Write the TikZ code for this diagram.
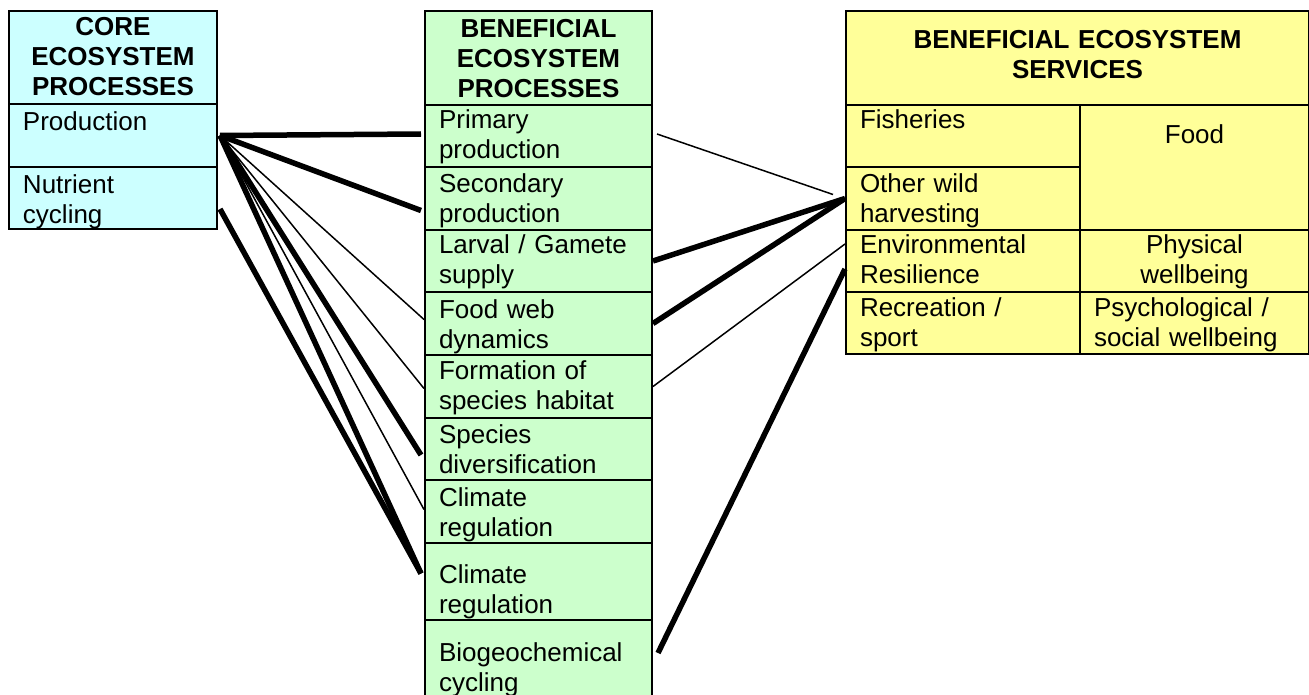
\documentclass[tikz,border=0pt]{standalone}
\usepackage{fontspec}
\setmainfont{Liberation Sans}
\usetikzlibrary{positioning}
\definecolor{colcore}{HTML}{CCFFFF}
\definecolor{colben}{HTML}{CCFFCC}
\definecolor{colserv}{HTML}{FFFF99}
\tikzset{
  cell/.style={draw=black, line width=2pt, anchor=north west, inner xsep=14pt, inner ysep=0pt,
    align=left, font=\fontsize{26}{30}\selectfont},
  head/.style={cell, align=center, font=\fontsize{26}{30}\selectfont\bfseries},
  core/.style={cell, fill=colcore, text width=180pt},
  ben/.style={cell, fill=colben, text width=199pt},
  servl/.style={cell, fill=colserv, text width=206pt},
  servr/.style={cell, fill=colserv, text width=201pt},
  thk/.style={line width=5.5pt},
  thn/.style={line width=1.5pt},
}

\begin{document}
\begin{tikzpicture}[x=1pt, y=-1pt]
  \useasboundingbox (0,0) rectangle (1309,695);

  % core processes
  \node[core, head, text height=25pt, text depth=68pt] (coreh) at (8,10) {CORE\\ECOSYSTEM\\PROCESSES};
  \node[core, text height=27pt, text depth=36pt] (prod) at (8,103) {Production};
  \node[core, text height=27pt, text depth=35pt] (nutr) at (8,166) {Nutrient\\cycling};

  % beneficial processes
  \node[ben, head, text height=27pt, text depth=67pt] (benh) at (424,10) {BENEFICIAL\\ECOSYSTEM\\PROCESSES};
  \node[ben, text height=24pt, text depth=38pt] (prim) at (424,104) {Primary\\production};
  \node[ben, text height=26pt, text depth=37pt] (sec) at (424,166) {Secondary\\production};
  \node[ben, text height=24pt, text depth=38pt] (larv) at (424,229) {Larval / Gamete\\supply};
  \node[ben, text height=26pt, text depth=37pt] (fweb) at (424,291) {Food web\\dynamics};
  \node[ben, text height=24pt, text depth=39pt] (form) at (424,354) {Formation of\\species habitat};
  \node[ben, text height=25pt, text depth=37pt] (spec) at (424,417) {Species\\diversification};
  \node[ben, text height=26pt, text depth=37pt] (clim) at (424,479) {Climate\\regulation};
  \node[ben, text height=40pt, text depth=37pt] (climb) at (424,542) {Climate\\regulation};
  \node[ben, text height=41pt, text depth=45pt] (bgc) at (424,619) {Biogeochemical\\cycling};

  % beneficial services
  \node[servl, head, text width=435pt, text height=38pt, text depth=56pt] (servh) at (845,10) {BENEFICIAL ECOSYSTEM\\SERVICES};
  \node[servl, text height=24pt, text depth=38pt] (fish) at (845,104) {Fisheries};
  \node[servl, text height=26pt, text depth=37pt] (wild) at (845,166) {Other wild\\harvesting};
  \node[servl, text height=24pt, text depth=38pt] (envr) at (845,229) {Environmental\\Resilience};
  \node[servl, text height=24pt, text depth=38pt] (recr) at (845,291) {Recreation /\\sport};
  \node[servr, align=center, text height=39pt, text depth=86pt] (food) at (1079,104) {Food};
  \node[servr, align=center, text height=24pt, text depth=38pt] (phys) at (1079,229) {Physical\\wellbeing};
  \node[servr, text height=24pt, text depth=38pt] (psych) at (1079,291) {Psychological /\\social wellbeing};

  % core -> beneficial processes
  \draw[thk] ([xshift=2pt]prod.east) -- ([xshift=-3pt,yshift=2pt]prim.west);
  \draw[thk] ([xshift=2pt]prod.east) -- ([xshift=-3pt,yshift=-12pt]sec.west);
  \draw[thn] ([xshift=2pt]prod.east) -- ([yshift=4pt]fweb.west);
  \draw[thn] ([xshift=2pt]prod.east) -- ([yshift=-2pt]form.west);
  \draw[thk] ([xshift=2pt]prod.east) -- ([xshift=-3pt,yshift=-6pt]spec.west);
  \draw[thn] ([xshift=2pt]prod.east) -- ([yshift=2pt]clim.west);
  \draw[thk] ([xshift=2pt]prod.east) -- ([xshift=-3pt,yshift=8pt]climb.west);
  \draw[thk] ([xshift=2pt,yshift=-11pt]nutr.east) -- ([xshift=-3pt,yshift=8pt]climb.west);

  % beneficial processes -> services
  \draw[thn] ([xshift=4pt,yshift=2pt]prim.east) -- ([xshift=-12pt,yshift=4pt]wild.west);
  \draw[thk] (larv.east) -- (wild.west);
  \draw[thk] (fweb.east) -- (wild.west);
  \draw[thn] (form.east) -- ([yshift=17pt]envr.west);
  \draw[thk] ([xshift=5pt,yshift=10pt]bgc.east) -- ([yshift=-8pt]envr.west);
\end{tikzpicture}
\end{document}
